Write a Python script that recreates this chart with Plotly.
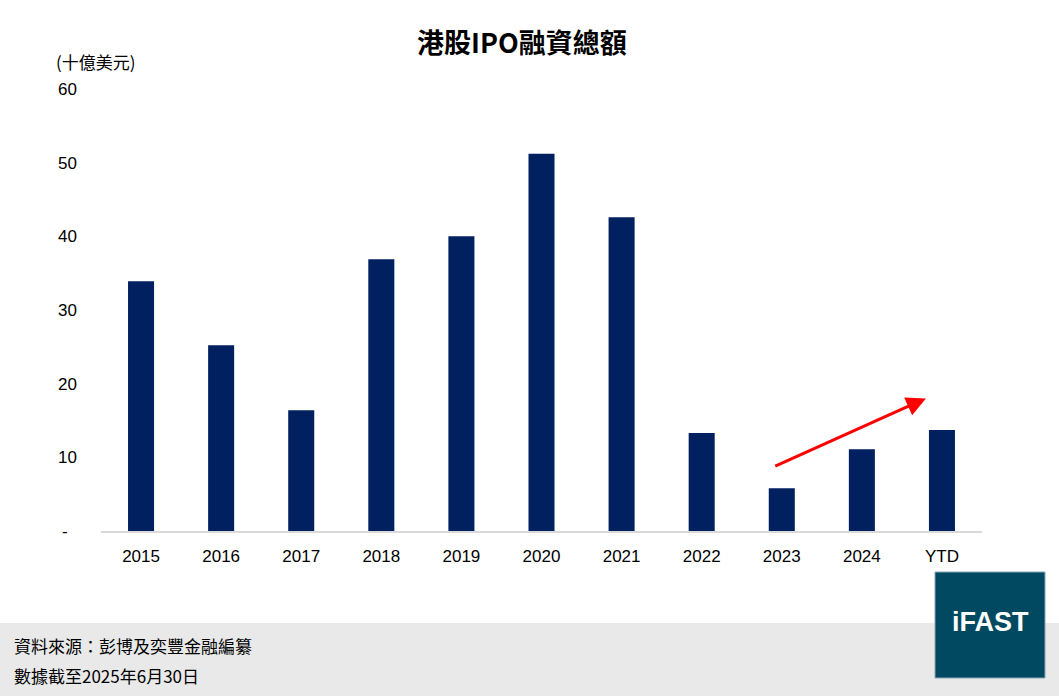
import plotly.graph_objects as go

years = ["2015", "2016", "2017", "2018", "2019", "2020", "2021", "2022", "2023", "2024", "YTD"]
ipo_funds = [33.9, 25.2, 16.4, 36.9, 40.0, 51.2, 42.6, 13.3, 5.8, 11.1, 13.7]

y_ticks = [0, 10, 20, 30, 40, 50, 60]
y_tick_text = ["-\u00a0\u00a0", "10", "20", "30", "40", "50", "60"]

title_text = "港股IPO融資總額"
unit_text = "(十億美元)"
source_text = "資料來源：彭博及奕豐金融編纂"
date_text = "數據截至2025年6月30日"

font_main = "Liberation Sans, Arial, Noto Sans CJK TC, sans-serif"
font_cjk = "Noto Sans CJK TC, sans-serif"

fig = go.Figure()
fig.add_trace(go.Bar(
    x=list(range(len(years))),
    y=ipo_funds,
    marker=dict(color="#002060", line=dict(width=0)),
    hoverinfo="y",
))

fig.update_layout(
    width=1059, height=696,
    margin=dict(l=101, r=77, t=89, b=165),
    paper_bgcolor="white", plot_bgcolor="white",
    bargap=0.675,
    showlegend=False,
    font=dict(family=font_main, size=17, color="#000000"),
    xaxis=dict(
        tickmode="array", tickvals=list(range(len(years))), ticktext=years,
        range=[-0.5, len(years) - 0.5],
        showline=True, linecolor="#d9d9d9", linewidth=1.5,
        showgrid=False, ticks="", zeroline=False,
        ticklabelstandoff=9, tickfont=dict(size=17),
    ),
    yaxis=dict(
        range=[0, 60], tickmode="array", tickvals=y_ticks, ticktext=y_tick_text,
        showgrid=False, zeroline=False, showline=False, ticks="",
        ticklabelstandoff=23, tickfont=dict(size=17),
    ),
    shapes=[
        # grey footer band
        dict(type="rect", xref="paper", yref="paper",
             x0=-101 / 881, x1=(1059 - 101) / 881, y0=-165 / 442, y1=-92 / 442,
             fillcolor="#e9e9e9", line=dict(width=0), layer="below"),
        # logo box
        dict(type="rect", xref="paper", yref="paper",
             x0=(935 - 101) / 881, x1=(1045 - 101) / 881,
             y0=-(678 - 531) / 442, y1=-(572 - 531) / 442,
             fillcolor="#004960", line=dict(width=1, color="#8aa8b4")),
    ],
)

fig.add_annotation(text="<b>" + title_text + "</b>", xref="paper", yref="paper",
                   x=(522 - 101) / 881, y=1 + (89 - 42) / 442, xanchor="center", yanchor="middle",
                   showarrow=False, font=dict(size=27, family=font_cjk))
fig.add_annotation(text=unit_text, xref="paper", yref="paper",
                   x=-(101 - 54) / 881, y=1 + (89 - 61) / 442, xanchor="left", yanchor="middle",
                   showarrow=False, font=dict(size=17, family=font_cjk))
fig.add_annotation(text=source_text, xref="paper", yref="paper",
                   x=-(101 - 12) / 881, y=-(645 - 531) / 442, xanchor="left", yanchor="middle",
                   showarrow=False, font=dict(size=17, family=font_cjk))
fig.add_annotation(text=date_text, xref="paper", yref="paper",
                   x=-(101 - 12) / 881, y=-(675 - 531) / 442, xanchor="left", yanchor="middle",
                   showarrow=False, font=dict(size=17, family=font_cjk))
fig.add_annotation(text="<b>iFAST</b>", xref="paper", yref="paper",
                   x=(990 - 101) / 881, y=-(622 - 531) / 442, xanchor="center", yanchor="middle",
                   showarrow=False, font=dict(size=27, color="white", family=font_main))

# red trend arrow from 2023 towards YTD
fig.add_annotation(x=9.8, y=18.0, ax=7.9, ay=8.7, xref="x", yref="y", axref="x", ayref="y",
                   text="", showarrow=True, arrowhead=2, arrowsize=1.3, arrowwidth=3,
                   arrowcolor="#ff0000")

fig.write_html("out.html", config={"displayModeBar": False},
               post_script="document.body.style.margin='0';")
